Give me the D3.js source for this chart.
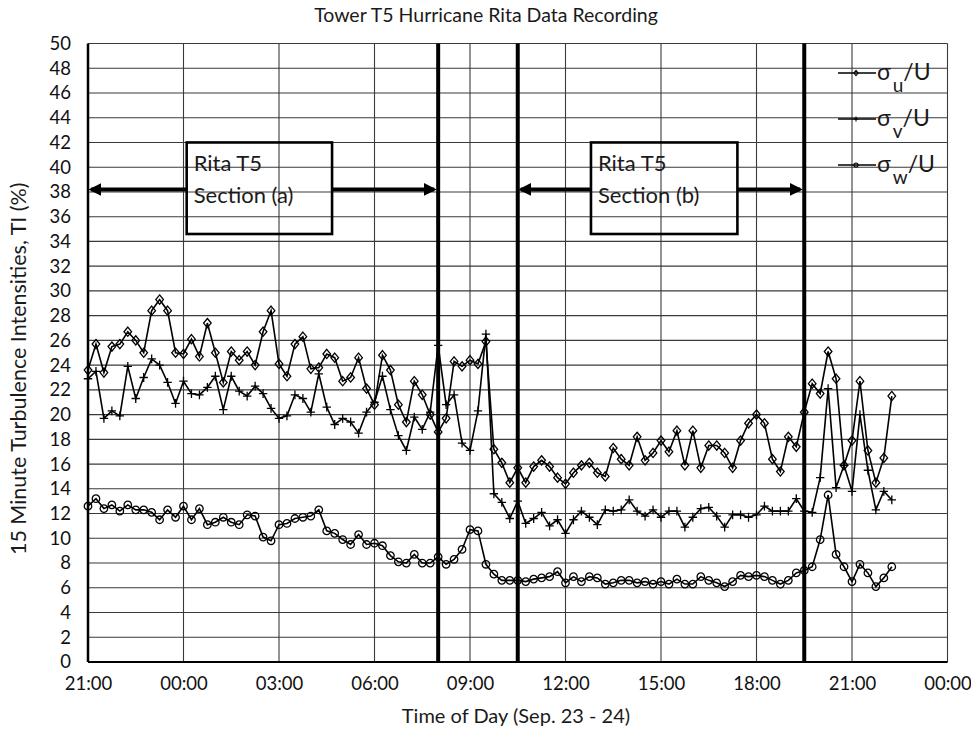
<!DOCTYPE html>
<html>
<head>
<meta charset="utf-8">
<script src="https://cdn.jsdelivr.net/npm/d3@7"></script>
<style>
  body { margin: 0; background: #fff; }
  svg { display: block; font-family: Lato, 'Open Sans', sans-serif; }
</style>
</head>
<body>
<svg id="chart" width="971" height="731"></svg>
<script>
// recording starts 21:00 Sep 23, one sample every 15 minutes
const startTime = new Date(2005, 8, 23, 21, 0);
const stepMinutes = 15;

const sigmaU = [
  23.6, 25.7, 23.4, 25.5, 25.7, 26.7, 26.0, 25.0, 28.4, 29.3, 28.4, 25.0, 24.9, 26.1, 24.7, 27.4,
  25.0, 22.6, 25.1, 24.4, 25.1, 24.0, 26.7, 28.4, 24.1, 23.1, 25.7, 26.3, 23.7, 23.8, 24.9, 24.6,
  22.7, 23.0, 24.6, 22.1, 20.8, 24.8, 23.6, 20.8, 19.4, 22.7, 21.6, 20.0, 18.6, 19.7, 24.3, 23.9,
  24.4, 24.1, 25.9, 17.2, 16.1, 14.5, 15.7, 14.5, 15.8, 16.3, 15.8, 14.9, 14.4, 15.3, 15.9, 16.1,
  15.3, 15.0, 17.3, 16.4, 15.9, 18.2, 16.3, 16.9, 17.9, 17.0, 18.7, 15.9, 18.7, 15.7, 17.5, 17.5,
  16.9, 15.7, 17.9, 19.3, 20.0, 19.3, 16.4, 15.4, 18.2, 17.4, 20.2, 22.5, 21.7, 25.1, 22.9, 15.9,
  17.9, 22.7, 17.1, 14.5, 16.5, 21.5
];
const sigmaV = [
  22.9, 23.5, 19.7, 20.3, 19.9, 23.9, 21.3, 23.0, 24.5, 24.0, 22.6, 20.9, 22.7, 21.7, 21.6, 22.2,
  23.1, 20.4, 23.1, 21.9, 21.5, 22.3, 21.7, 20.5, 19.7, 19.9, 21.6, 21.3, 20.2, 23.3, 20.6, 19.2,
  19.7, 19.4, 18.5, 20.2, 21.0, 23.1, 20.4, 18.3, 17.1, 19.8, 18.8, 20.2, 25.6, 20.8, 21.6, 17.7,
  17.1, 20.3, 26.5, 13.6, 12.9, 11.6, 13.0, 11.2, 11.6, 12.1, 11.0, 11.5, 10.4, 11.5, 12.2, 11.7,
  11.1, 12.3, 12.2, 12.3, 13.1, 12.2, 11.8, 12.3, 11.7, 12.2, 12.2, 10.9, 11.7, 12.4, 12.5, 11.8,
  10.9, 11.9, 11.9, 11.7, 11.9, 12.6, 12.2, 12.2, 12.2, 13.2, 12.2, 12.1, 14.9, 22.1, 14.1, 15.9,
  13.8, 20.0, 15.5, 12.3, 13.8, 13.1
];
const sigmaW = [
  12.6, 13.2, 12.4, 12.7, 12.2, 12.7, 12.3, 12.3, 12.1, 11.5, 12.3, 11.7, 12.6, 11.5, 12.4, 11.1,
  11.3, 11.7, 11.3, 11.1, 11.9, 11.8, 10.1, 9.8, 11.1, 11.2, 11.6, 11.7, 11.8, 12.3, 10.6, 10.4,
  9.9, 9.5, 10.3, 9.5, 9.6, 9.4, 8.6, 8.1, 8.0, 8.7, 8.0, 8.0, 8.5, 7.9, 8.3, 9.1,
  10.7, 10.6, 7.9, 7.1, 6.6, 6.6, 6.6, 6.5, 6.7, 6.8, 6.9, 7.3, 6.4, 6.9, 6.5, 6.9,
  6.8, 6.3, 6.4, 6.6, 6.6, 6.4, 6.5, 6.3, 6.5, 6.3, 6.7, 6.3, 6.3, 6.9, 6.6, 6.4,
  6.1, 6.5, 7.0, 6.9, 7.0, 6.9, 6.6, 6.3, 6.6, 7.2, 7.4, 7.7, 9.9, 13.5, 8.7, 7.7,
  6.5, 7.9, 7.2, 6.1, 6.8, 7.7
];

const seriesNames = ['u', 'v', 'w'];
const xTickHours = [0, 3, 6, 9, 12, 15, 18, 21, 24, 27];
const yTicks = d3.range(0, 51, 2);
// section boundaries (hours after 21:00): 08:00, 10:30, 19:30
const boundaryHours = [11, 13.5, 22.5];
const sections = [
  {label: ['Rita T5', 'Section (a)'], from: 0, to: 11, boxFrom: 3.1, boxTo: 7.67},
  {label: ['Rita T5', 'Section (b)'], from: 13.5, to: 22.5, boxFrom: 15.8, boxTo: 20.4}
];

const width = 971;
const height = 731;
const margin = {top: 43.5, right: 23.5, bottom: 69, left: 88};

const svg = d3.select('#chart');

const hourToDate = h => d3.timeMinute.offset(startTime, h * 60);
const x = d3.scaleTime()
  .domain([startTime, hourToDate(27)])
  .range([margin.left, width - margin.right]);
const y = d3.scaleLinear()
  .domain([0, 50])
  .range([height - margin.bottom, margin.top]);

const timeOf = i => d3.timeMinute.offset(startTime, i * stepMinutes);

// gridlines
svg.append('g')
  .selectAll('line')
  .data(yTicks)
  .join('line')
  .attr('x1', margin.left)
  .attr('x2', width - margin.right)
  .attr('y1', d => y(d))
  .attr('y2', d => y(d))
  .attr('stroke', '#3a3a3a')
  .attr('stroke-width', 1.1);

svg.append('g')
  .selectAll('line')
  .data(xTickHours.slice(1))
  .join('line')
  .attr('x1', d => x(hourToDate(d)))
  .attr('x2', d => x(hourToDate(d)))
  .attr('y1', y(0))
  .attr('y2', y(50))
  .attr('stroke', '#3a3a3a')
  .attr('stroke-width', 1.1);

// axes
const yAxis = svg.append('g')
  .attr('transform', `translate(${margin.left},0)`)
  .call(d3.axisLeft(y).tickValues(yTicks).tickSize(0).tickPadding(17));
yAxis.select('.domain').remove();
yAxis.selectAll('text')
  .attr('font-family', 'Lato, sans-serif')
  .attr('font-size', 18.5)
  .attr('fill', '#111');

const xAxis = svg.append('g')
  .attr('transform', `translate(0,${y(0)})`)
  .call(d3.axisBottom(x)
    .tickValues(xTickHours.map(hourToDate))
    .tickFormat(d3.timeFormat('%H:%M'))
    .tickSize(0)
    .tickPadding(15));
xAxis.select('.domain').remove();
xAxis.selectAll('text')
  .attr('font-family', 'Lato, sans-serif')
  .attr('font-size', 18.5)
  .attr('fill', '#111');

svg.append('line')
  .attr('x1', margin.left).attr('x2', margin.left)
  .attr('y1', y(0)).attr('y2', y(50))
  .attr('stroke', '#000').attr('stroke-width', 2.5);
svg.append('line')
  .attr('x1', margin.left).attr('x2', width - margin.right)
  .attr('y1', y(0)).attr('y2', y(0))
  .attr('stroke', '#000').attr('stroke-width', 2);

// thick section boundaries
svg.append('g')
  .selectAll('line')
  .data(boundaryHours)
  .join('line')
  .attr('x1', d => x(hourToDate(d)))
  .attr('x2', d => x(hourToDate(d)))
  .attr('y1', y(0))
  .attr('y2', y(50))
  .attr('stroke', '#000')
  .attr('stroke-width', 4);

// series
const markerPaths = {
  u: 'M0,-4.6L3.8,0L0,4.6L-3.8,0Z',
  v: 'M-4.2,0H4.2M0,-4.4V4.4',
  w: d3.symbol(d3.symbolCircle, 44)()
};
const seriesData = {u: sigmaU, v: sigmaV, w: sigmaW};
const line = d3.line()
  .x((d, i) => x(timeOf(i)))
  .y(d => y(d));

seriesNames.forEach(name => {
  const values = seriesData[name];
  const g = svg.append('g').attr('class', `series-${name}`);
  g.append('path')
    .datum(values)
    .attr('d', line)
    .attr('fill', 'none')
    .attr('stroke', '#000')
    .attr('stroke-width', 1.6);
  g.selectAll('path.mark')
    .data(values)
    .join('path')
    .attr('class', 'mark')
    .attr('transform', (d, i) => `translate(${x(timeOf(i))},${y(d)})`)
    .attr('d', markerPaths[name])
    .attr('fill', 'none')
    .attr('stroke', '#000')
    .attr('stroke-width', 1.3);
});

// section annotations
const defs = svg.append('defs');
defs.append('marker')
  .attr('id', 'arrow')
  .attr('viewBox', '0 0 10 10')
  .attr('refX', 8)
  .attr('refY', 5)
  .attr('markerWidth', 3.2)
  .attr('markerHeight', 3.2)
  .attr('orient', 'auto')
  .append('path')
  .attr('d', 'M0,0L10,5L0,10Z')
  .attr('fill', '#000');

const arrowY = y(38.2);
const boxTop = y(42);
const boxBottom = y(34.6);
sections.forEach(s => {
  const g = svg.append('g');
  const x0 = x(hourToDate(s.from));
  const x1 = x(hourToDate(s.to));
  const bx0 = x(hourToDate(s.boxFrom));
  const bx1 = x(hourToDate(s.boxTo));
  g.append('line')
    .attr('x1', bx0).attr('x2', x0 + 3)
    .attr('y1', arrowY).attr('y2', arrowY)
    .attr('stroke', '#000').attr('stroke-width', 4)
    .attr('marker-end', 'url(#arrow)');
  g.append('line')
    .attr('x1', bx1).attr('x2', x1 - 4)
    .attr('y1', arrowY).attr('y2', arrowY)
    .attr('stroke', '#000').attr('stroke-width', 4)
    .attr('marker-end', 'url(#arrow)');
  g.append('rect')
    .attr('x', bx0).attr('y', boxTop)
    .attr('width', bx1 - bx0).attr('height', boxBottom - boxTop)
    .attr('fill', 'none')
    .attr('stroke', '#000').attr('stroke-width', 2.6);
  g.selectAll('text')
    .data(s.label)
    .join('text')
    .attr('x', bx0 + 7)
    .attr('y', (d, i) => boxTop + 29 + i * 32)
    .attr('font-size', 22)
    .attr('fill', '#1a1a1a')
    .text(d => d);
});

// legend
const legend = svg.append('g').attr('transform', 'translate(838,73)');
seriesNames.forEach((name, i) => {
  const row = legend.append('g').attr('transform', `translate(0,${i * 46})`);
  row.append('line')
    .attr('x1', 0).attr('x2', 38)
    .attr('stroke', '#000').attr('stroke-width', 1.4);
  row.append('path')
    .attr('transform', 'translate(18,0) scale(0.55)')
    .attr('d', markerPaths[name])
    .attr('fill', 'none')
    .attr('stroke', '#000')
    .attr('stroke-width', 2);
  const t = row.append('text')
    .attr('x', 39)
    .attr('y', 7)
    .attr('font-size', 23)
    .attr('fill', '#1a1a1a');
  t.append('tspan').text('σ');
  t.append('tspan').attr('dx', 2).attr('dy', 12).attr('font-size', 19).text(name);
  t.append('tspan').attr('dy', -12).text('/U');
});

// titles
svg.append('text')
  .attr('x', 486)
  .attr('y', 22)
  .attr('text-anchor', 'middle')
  .attr('font-size', 19.5)
  .attr('fill', '#1a1a1a')
  .text('Tower T5 Hurricane Rita Data Recording');

svg.append('text')
  .attr('x', 516)
  .attr('y', 723)
  .attr('text-anchor', 'middle')
  .attr('font-size', 20)
  .attr('fill', '#1a1a1a')
  .text('Time of Day (Sep. 23 - 24)');

svg.append('text')
  .attr('transform', `translate(26,${(y(0) + y(50)) / 2 + 16}) rotate(-90)`)
  .attr('text-anchor', 'middle')
  .attr('font-size', 21.5)
  .attr('fill', '#1a1a1a')
  .text('15 Minute Turbulence Intensities, TI (%)');
</script>
</body>
</html>
